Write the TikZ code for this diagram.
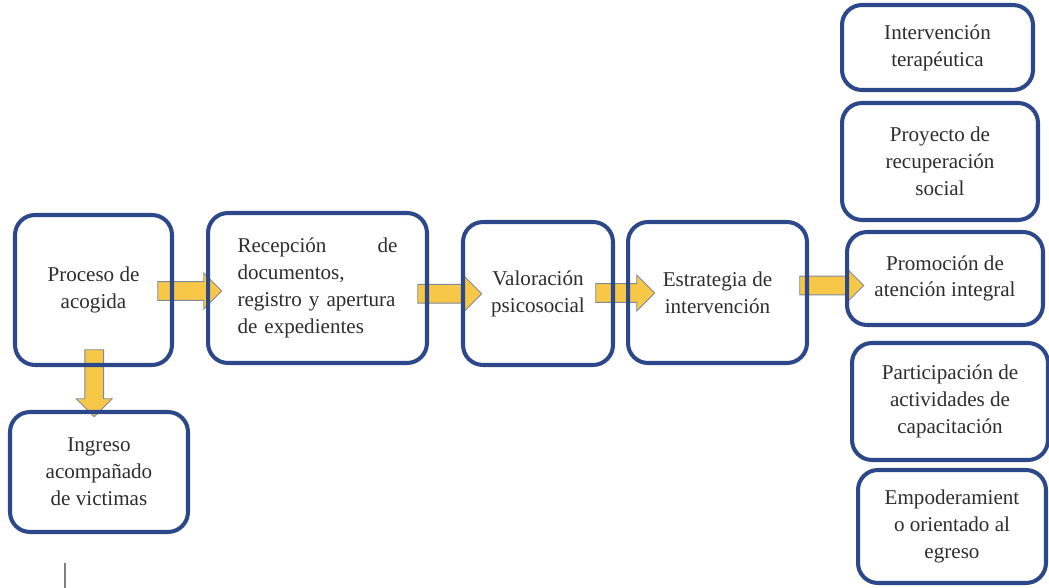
\documentclass[tikz,border=0pt]{standalone}
\usepackage{fontspec}
\setmainfont{Liberation Serif}
\usetikzlibrary{shapes.arrows,calc,backgrounds}

\definecolor{bordeazul}{RGB}{44,72,138}
\definecolor{amarillo}{RGB}{247,200,72}
\definecolor{contorno}{RGB}{128,136,156}
\definecolor{texto}{RGB}{45,45,45}

\begin{document}
\begin{tikzpicture}[
			x=0.02cm, y=-0.02cm,
			caja/.style={rectangle, draw=bordeazul, line width=2.3pt, rounded corners=0.4cm, align=center, text=texto, font=\fontsize{12}{15.3}\selectfont, inner sep=0pt},
			flecha/.style={single arrow, draw=contorno, fill=amarillo, line width=0.5pt, inner xsep=0pt, inner ysep=0.18cm, text height=0pt, text depth=0pt, single arrow head extend=0.17cm, minimum height=1.28cm}
			]
			\useasboundingbox (0,0) rectangle (1049,588);
			
			% Main process
			\node[caja, minimum width=3.14cm, minimum height=3.0cm] (acogida) at (93.5,290) {Proceso de\\acogida};
			\node[caja, minimum width=4.38cm, minimum height=3.0cm, text width=3.2cm, align=left] (recepcion) at (317.5,288) {Recepción\hfill de\\documentos,\\registro y apertura\\de expedientes};
			\node[caja, minimum width=3.0cm, minimum height=2.86cm] (valoracion) at (538,293.5) {Valoración\\psicosocial};
			\node[caja, minimum width=3.58cm, minimum height=2.82cm] (estrategia) at (717.5,292.5) {Estrategia de\\intervención};
			
			% Ingreso
			\node[caja, minimum width=3.56cm, minimum height=2.4cm] (ingreso) at (99,472) {Ingreso\\acompañado\\de victimas};
			
			% Intervention lines
			\node[caja, minimum width=3.82cm, minimum height=1.7cm] (terapeutica) at (937.5,47.5) {Intervención\\terapéutica};
			\node[caja, minimum width=3.92cm, minimum height=2.34cm] (recuperacion) at (940,161.5) {Proyecto de\\recuperación\\social};
			\node[caja, minimum width=3.92cm, minimum height=1.86cm] (promocion) at (945,278.5) {Promoción de\\atención integral};
			\node[caja, minimum width=3.92cm, minimum height=2.34cm] (capacitacion) at (950,401.5) {Participación de\\actividades de\\capacitación};
			\node[caja, minimum width=3.76cm, minimum height=2.26cm] (egreso) at (952,526.5) {Empoderamient\\o orientado al\\egreso};
			
			% Block arrows
			\begin{pgfonlayer}{background}
				\node[flecha, xshift=-0.1cm, yshift=-0.04cm] (f1) at ($(acogida.east)!0.5!(recepcion.west)$) {};
				\node[flecha, yshift=-0.06cm] (f2) at ($(recepcion.east)!0.5!(valoracion.west)$) {};
				\node[flecha, minimum height=1.18cm] (f3) at ($(valoracion.east)!0.5!(estrategia.west)$) {};
				\node[flecha] (f4) at ($(estrategia.east)!0.5!(promocion.west)$) {};
				\node[flecha, xshift=-0.04cm, yshift=0.2cm, rotate=-90, minimum height=1.34cm] (f5) at ($(acogida.south)!0.5!(ingreso.north)$) {};
			\end{pgfonlayer}
			
			% Stray mark
			\draw[gray, line width=0.6pt] (65,563) -- (65,588);
			
		\end{tikzpicture}
\end{document}
